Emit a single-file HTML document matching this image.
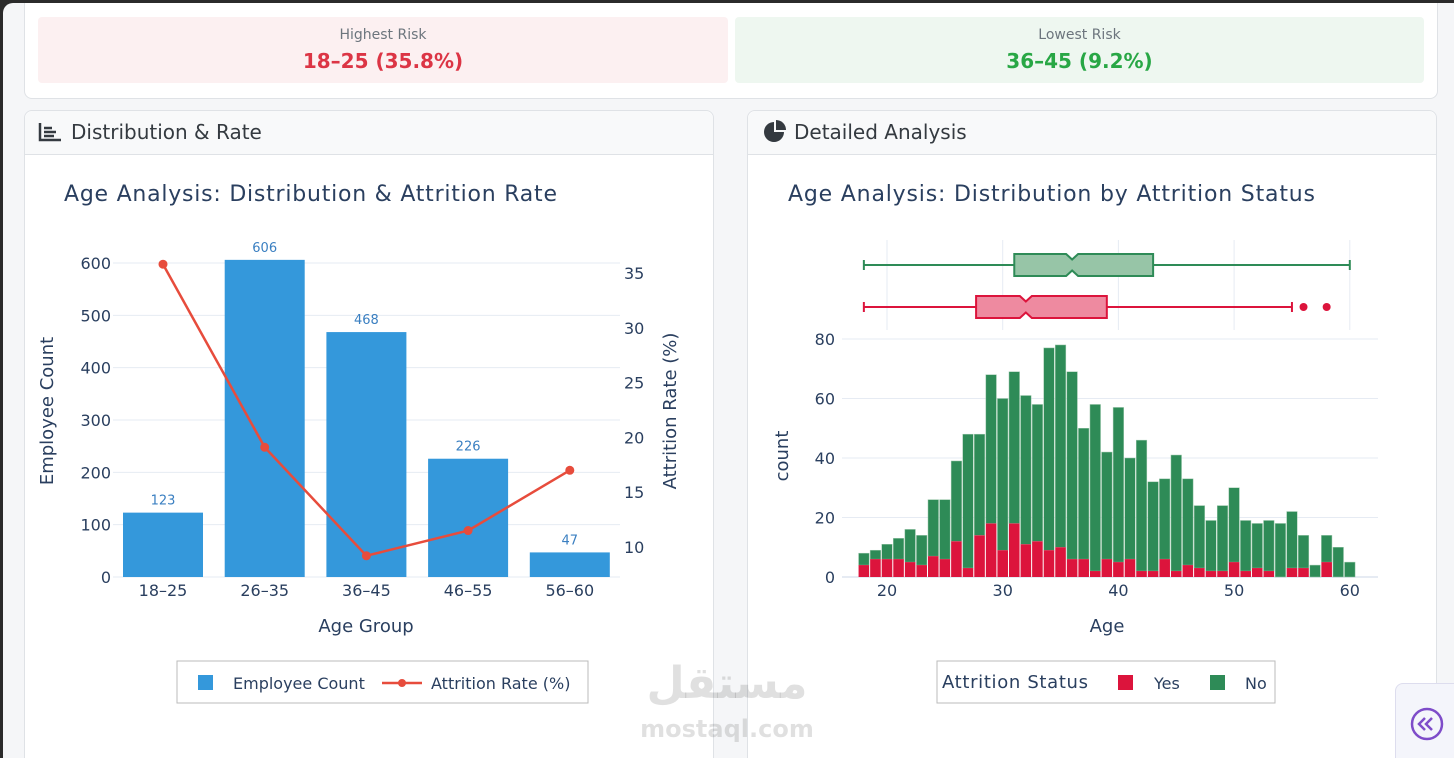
<!DOCTYPE html>
<html><head><meta charset="utf-8"><style>
body{margin:0;width:1454px;height:758px;overflow:hidden;background:#2b2b2b;font-family:"DejaVu Sans","Liberation Sans",sans-serif;}
#frame{position:absolute;left:3px;top:3px;width:1451px;height:755px;background:#f5f6f8;border-top-left-radius:10px;overflow:hidden}
.card{position:absolute;background:#fff;border:1px solid #dfe2e6;border-radius:8px}
.risk{position:absolute;top:14px;height:66px;border-radius:4px;text-align:center}
.risk .l{font-size:14px;color:#6c757d;margin-top:10px}
.risk .v{font-size:20px;font-weight:bold;margin-top:6px}
.hdr{position:absolute;left:0;right:0;top:0;height:43px;background:#f8f9fa;border-bottom:1px solid #dfe2e6;font-size:20px;color:#343a40;line-height:43px;padding-left:46px;border-radius:8px 8px 0 0}
svg text{font-family:"DejaVu Sans","Liberation Sans",sans-serif}
</style></head><body>
<div id="frame">
<div class="card" style="left:21px;top:-10px;width:1412px;height:104px">
 <div class="risk" style="left:13px;top:23px;width:690px;background:#fcf0f1"><div class="l">Highest Risk</div><div class="v" style="color:#dc3545">18–25 (35.8%)</div></div>
 <div class="risk" style="left:710px;top:23px;width:689px;background:#eef7f0"><div class="l">Lowest Risk</div><div class="v" style="color:#28a745">36–45 (9.2%)</div></div>
</div>
<div class="card" style="left:21px;top:107px;width:688px;height:660px"><div class="hdr">Distribution &amp; Rate</div></div>
<div class="card" style="left:744px;top:107px;width:688px;height:660px"><div class="hdr">Detailed Analysis</div></div>
<div style="position:absolute;left:1392px;top:680px;width:70px;height:90px;background:#f4f5fb;border:1px solid #dde;border-radius:8px"></div>
</div>
<svg id="s" width="1454" height="758" style="position:absolute;left:0;top:0"></svg>
<script>
const ageGroups=["18–25","26–35","36–45","46–55","56–60"];
const empCount=[123,606,468,226,47];
const attrRate=[35.8,19.1,9.2,11.5,17.0];
const leftTicks=[0,100,200,300,400,500,600];
const rightTicks=[10,15,20,25,30,35];
const histAges=[18,19,20,21,22,23,24,25,26,27,28,29,30,31,32,33,34,35,36,37,38,39,40,41,42,43,44,45,46,47,48,49,50,51,52,53,54,55,56,57,58,59,60];
const histTotal=[8,9,11,13,16,14,26,26,39,48,48,68,60,69,61,58,77,78,69,50,58,42,57,40,46,32,33,41,33,24,19,24,30,19,18,19,18,22,14,4,14,10,5];
const histYes=[4,6,6,6,5,4,7,6,12,3,14,18,9,18,11,12,9,10,6,6,2,6,5,6,2,2,6,2,4,3,2,2,5,2,3,2,0,3,3,0,5,0,0];
const histTicks=[0,20,40,60,80];
const ageTicks=[20,30,40,50,60];
const boxNo={min:18,q1:31,med:36,q3:43,max:60};
const boxYes={min:18,q1:27.7,med:32,q3:39,max:55,out:[56,58]};
const S=document.getElementById('s');const NS='http://www.w3.org/2000/svg';
function E(t,a,txt,par){const e=document.createElementNS(NS,t);for(const k in a)e.setAttribute(k,a[k]);if(txt!=null)e.textContent=txt;(par||S).appendChild(e);return e;}
const tc='#2a3f5f',gc='#e6ebf3';
E('path',{d:'M40 123v17h21M44 128h8M44 132h12M44 136h10',stroke:'#343a40','stroke-width':2.5,fill:'none'});
E('path',{d:'M774 122a10 10 0 1 0 10 10h-10z',fill:'#343a40'});
E('path',{d:'M776 120v10h10a10 10 0 0 0-10-10z',fill:'#343a40'});
const yL=v=>577-v*(314/600), yR=v=>547-(v-10)*10.96, xC=i=>163+i*101.7;
E('text',{x:64,y:201,'font-size':22,fill:tc,textLength:493},'Age Analysis: Distribution & Attrition Rate');
leftTicks.forEach(t=>{E('line',{x1:113,x2:620,y1:yL(t),y2:yL(t),stroke:gc});const e=E('text',{x:111,y:yL(t)+6,'font-size':16,fill:tc,'text-anchor':'end'},t);});
rightTicks.forEach(t=>{const e=E('text',{x:624,y:yR(t)+6,'font-size':16,fill:tc},t);});
empCount.forEach((v,i)=>{const b=E('rect',{x:xC(i)-40,y:yL(v),width:80,height:yL(0)-yL(v),fill:'#3498db'});
const l=E('text',{x:xC(i),y:yL(v)-8,'font-size':13,fill:'#3a7fc1','text-anchor':'middle'},v);
const x=E('text',{x:xC(i),y:596,'font-size':16,fill:tc,'text-anchor':'middle'},ageGroups[i]);});
E('polyline',{points:attrRate.map((v,i)=>xC(i)+','+yR(v)).join(' '),fill:'none',stroke:'#e74c3c','stroke-width':2.5});
attrRate.forEach((v,i)=>{const c=E('circle',{cx:xC(i),cy:yR(v),r:4.5,fill:'#e74c3c'});});
E('text',{x:366,y:632,'font-size':18,fill:tc,'text-anchor':'middle'},'Age Group');
E('text',{x:0,y:0,'font-size':18,fill:tc,'text-anchor':'middle',transform:'translate(53,411) rotate(-90)'},'Employee Count');
E('text',{x:0,y:0,'font-size':18,fill:tc,'text-anchor':'middle',transform:'translate(676,411) rotate(-90)'},'Attrition Rate (%)');
E('rect',{x:177,y:661,width:411,height:42,fill:'#fff',stroke:'#bbb'});
E('rect',{x:198,y:675,width:15,height:15,fill:'#3498db'});
E('text',{x:233,y:689,'font-size':16,fill:tc},'Employee Count');
E('line',{x1:382,x2:422,y1:683,y2:683,stroke:'#e74c3c','stroke-width':2.5});E('circle',{cx:402,cy:683,r:4,fill:'#e74c3c'});
E('text',{x:431,y:689,'font-size':16,fill:tc},'Attrition Rate (%)');
const xA=a=>887+(a-20)*11.57, yH=v=>577-v*2.975;
E('text',{x:788,y:201,'font-size':22,fill:tc,textLength:527},'Age Analysis: Distribution by Attrition Status');
ageTicks.forEach(t=>{E('line',{x1:xA(t),x2:xA(t),y1:240,y2:330,stroke:gc});const e=E('text',{x:xA(t),y:596,'font-size':16,fill:tc,'text-anchor':'middle'},t);});
histTicks.forEach(t=>{E('line',{x1:842,x2:1378,y1:yH(t),y2:yH(t),stroke:gc,'stroke-width':t?1:2});const e=E('text',{x:835,y:yH(t)+6,'font-size':16,fill:tc,'text-anchor':'end'},t);});
histAges.forEach((a,i)=>{const x0=xA(a-0.5)+0.5,w=11.57-1;const g=E('rect',{x:x0,y:yH(histTotal[i]),width:w,height:yH(histYes[i])-yH(histTotal[i]),fill:'#2e8b57',stroke:'#9fc9ae','stroke-width':0.5});
if(histYes[i]){const r=E('rect',{x:x0,y:yH(histYes[i]),width:w,height:yH(0)-yH(histYes[i]),fill:'#dc143c'});}});
function box(b,cy,stroke,fill,name){const h=22,n=6;const g=E('g',{});
E('line',{x1:xA(b.min),x2:xA(b.q1),y1:cy,y2:cy,stroke:stroke,'stroke-width':2},null,g);E('line',{x1:xA(b.q3),x2:xA(b.max),y1:cy,y2:cy,stroke:stroke,'stroke-width':2},null,g);
[b.min,b.max].forEach(v=>E('line',{x1:xA(v),x2:xA(v),y1:cy-5,y2:cy+5,stroke:stroke,'stroke-width':2},null,g));
const m=xA(b.med),q1=xA(b.q1),q3=xA(b.q3);
E('path',{d:`M${q1} ${cy-h/2}H${m-n}L${m} ${cy-h/4}L${m+n} ${cy-h/2}H${q3}V${cy+h/2}H${m+n}L${m} ${cy+h/4}L${m-n} ${cy+h/2}H${q1}Z`,fill:fill,stroke:stroke,'stroke-width':2},null,g);
(b.out||[]).forEach(o=>E('circle',{cx:xA(o),cy:cy,r:4,fill:stroke},null,g));}
box(boxNo,265,'#2e8b57','#97c5a7','boxplot-no');
box(boxYes,307,'#dc143c','#ee8aa0','boxplot-yes');
E('text',{x:1107,y:632,'font-size':18,fill:tc,'text-anchor':'middle'},'Age');
E('text',{x:0,y:0,'font-size':18,fill:tc,'text-anchor':'middle',transform:'translate(788,456) rotate(-90)'},'count');
E('rect',{x:937,y:661,width:338,height:42,fill:'#fff',stroke:'#bbb'});
E('text',{x:942,y:688,'font-size':18,fill:tc,textLength:146},'Attrition Status');
E('rect',{x:1118,y:675,width:15,height:15,fill:'#dc143c'});E('text',{x:1154,y:689,'font-size':16,fill:tc},'Yes');
E('rect',{x:1210,y:675,width:15,height:15,fill:'#2e8b57'});E('text',{x:1245,y:689,'font-size':16,fill:tc},'No');
E('text',{x:727,y:698,'font-size':44,'font-weight':'bold',fill:'#000','fill-opacity':0.12,'text-anchor':'middle'},'مستقل');
E('text',{x:727,y:737,'font-size':24,'font-weight':'bold',fill:'#000','fill-opacity':0.12,'text-anchor':'middle'},'mostaql.com');
E('circle',{cx:1427,cy:724,r:15,fill:'none',stroke:'#7e4cc9','stroke-width':2.5});
E('path',{d:'M1425 718l-6 6 6 6M1432 718l-6 6 6 6',fill:'none',stroke:'#7e4cc9','stroke-width':2.5});
</script>
</body></html>
